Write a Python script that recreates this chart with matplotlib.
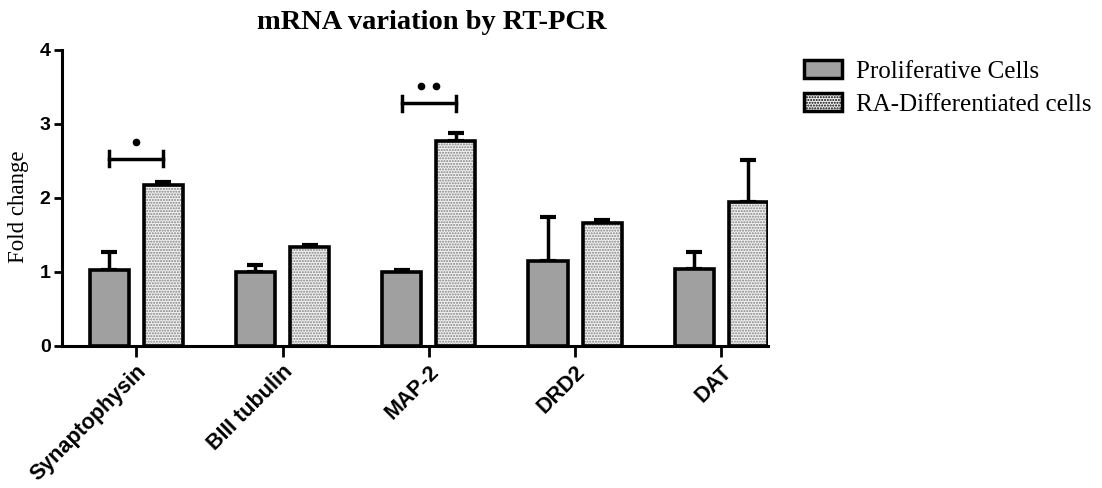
import numpy as np
import matplotlib.pyplot as plt
from matplotlib.patches import Patch

# ----- Data -----
genes = ["Synaptophysin", "BIII tubulin", "MAP-2", "DRD2", "DAT"]
prolif = [1.02, 1.00, 1.00, 1.15, 1.04]
prolif_err = [0.25, 0.09, 0.02, 0.59, 0.23]
ra_diff = [2.18, 1.34, 2.77, 1.66, 1.95]
ra_diff_err = [0.03, 0.03, 0.11, 0.04, 0.56]
series_names = ["Proliferative Cells", "RA-Differentiated cells"]
# significance: (gene index, bracket height, number of dots)
sig = [(0, 2.53, 1), (2, 3.28, 2)]

SERIF = "Liberation Serif"
SANS = "Liberation Sans"

fig = plt.figure(figsize=(11.02, 4.88), dpi=100)
ax = fig.add_axes([0.056, 0.291, 0.641, 0.607])

x = np.arange(len(genes))
W = 0.267
OFF = 0.185
LW = 2.6

# proliferative bars
ax.bar(x - OFF, prolif, W, color="#a0a0a0", edgecolor="black", linewidth=LW, zorder=3)
# RA bars: dotted fill, then black outline on top
ax.bar(x + OFF, ra_diff, W, color="#f2f2f2", edgecolor="#808080", hatch="......",
       linewidth=0, zorder=3)
ax.bar(x + OFF, ra_diff, W, fill=False, edgecolor="black", linewidth=LW, zorder=4)

# upper error bars only
for xs, ys, es in [(x - OFF, prolif, prolif_err), (x + OFF, ra_diff, ra_diff_err)]:
    ax.errorbar(xs, ys, yerr=[np.zeros(len(es)), es], fmt="none", ecolor="black",
                elinewidth=2.5, capsize=6, capthick=3, zorder=2)

# significance brackets
for i, h, n in sig:
    x0, x1 = i - OFF, i + OFF
    ax.plot([x0, x1], [h, h], color="black", lw=2.5, zorder=5)
    ax.plot([x0, x0], [h - 0.1, h + 0.1], color="black", lw=2.5, zorder=5)
    ax.plot([x1, x1], [h - 0.1, h + 0.1], color="black", lw=2.5, zorder=5)
    if n == 1:
        ax.plot([i], [h + 0.23], "o", color="black", ms=4.5, zorder=5)
    else:
        ax.plot([i - 0.05, i + 0.05], [h + 0.23, h + 0.23], "o", color="black", ms=4.5, zorder=5)

ax.set_xlim(-0.51, 4.32)
ax.set_ylim(0, 4)
ax.set_yticks([0, 1, 2, 3, 4])
ax.set_xticks(x)
ax.set_xticklabels(genes, rotation=45, ha="right", rotation_mode="anchor",
                   fontfamily=SANS, fontweight="bold", fontsize=15.5)
for lab in ax.get_yticklabels():
    lab.set_fontfamily(SANS)
    lab.set_fontweight("bold")
    lab.set_fontsize(14)

for s in ["top", "right"]:
    ax.spines[s].set_visible(False)
for s in ["left", "bottom"]:
    ax.spines[s].set_linewidth(2.2)
ax.tick_params(axis="y", length=6, width=2, pad=2)
ax.tick_params(axis="x", length=8, width=2, pad=3)

ax.set_ylabel("Fold change", fontfamily=SERIF, fontsize=16.5)
ax.yaxis.set_label_coords(-0.047, 0.47)
fig.text(0.392, 0.953, "mRNA variation by RT-PCR", ha="center", va="center",
         fontfamily=SERIF, fontweight="bold", fontsize=20.5)

handles = [
    Patch(facecolor="#a0a0a0", edgecolor="black", linewidth=2.5),
    Patch(facecolor="#f2f2f2", edgecolor="black", hatch="......", linewidth=2.5),
]
leg = fig.legend(handles, series_names, loc="upper left", bbox_to_anchor=(0.730, 0.877),
                 frameon=False, prop={"family": SERIF, "size": 18},
                 borderpad=0, borderaxespad=0,
                 handlelength=1.52, handleheight=0.72, handletextpad=0.56, labelspacing=0.42)

plt.savefig("out.png", dpi=100)
